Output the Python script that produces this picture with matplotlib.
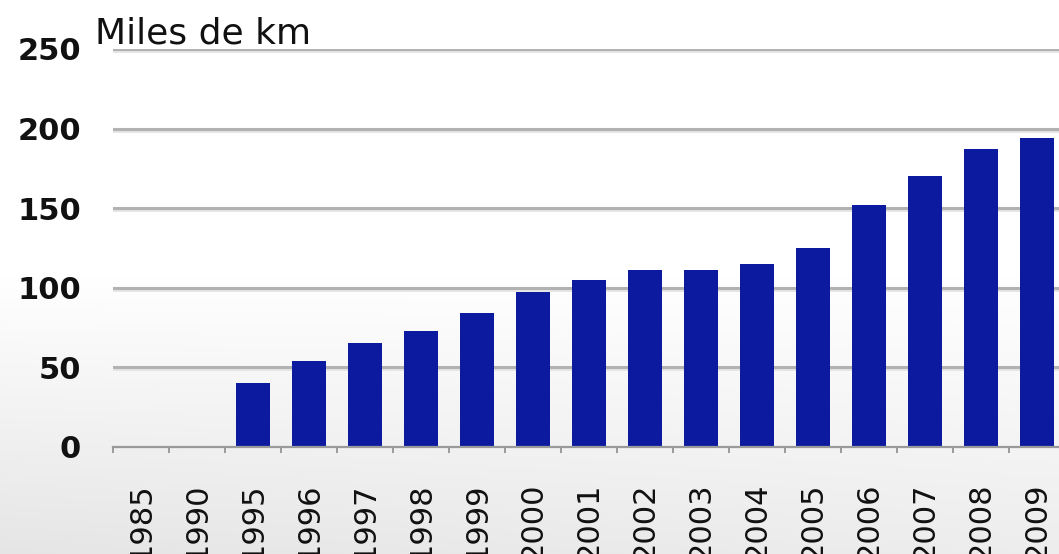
import numpy as np
import matplotlib
matplotlib.use("Agg")
import matplotlib.pyplot as plt

# Autopista network length by year (thousands of km)
years = ["1985", "1990", "1995", "1996", "1997", "1998", "1999", "2000", "2001",
         "2002", "2003", "2004", "2005", "2006", "2007", "2008", "2009"]
km_thousands = [0, 0, 40, 54, 65, 73, 84, 97, 105, 111, 111, 115, 125, 152, 170, 187, 194]
y_ticks = [0, 50, 100, 150, 200, 250]
unit_label = "Miles de km"

W, H, DPI = 1059, 554, 100
PT = 72 / DPI  # points per pixel
fig = plt.figure(figsize=(W / DPI, H / DPI), dpi=DPI)

# soft grey backdrop fading towards the bottom
bg = fig.add_axes([0, 0, 1, 1], zorder=-10)
rows = np.linspace(0, 1, H)[:, None]
cols = np.linspace(0, 1, W)[None, :]
shade = np.clip((rows - 0.50) / 0.50, 0, 1) * (0.10 - 0.03 * cols)
img = 1.0 - shade
bg.imshow(np.dstack([img, img, img]), aspect="auto", extent=[0, 1, 0, 1],
          origin="upper", vmin=0, vmax=1)
bg.set_axis_off()

# plot area in pixel units
left_px, right_px = 113, 1065
bottom_px, top_px = 554 - 446.7, 554 - 49
ax = fig.add_axes([left_px / W, bottom_px / H, (right_px - left_px) / W,
                   (top_px - bottom_px) / H])
ax.patch.set_alpha(0)

x = np.arange(len(years))
ax.set_xlim(-0.5, len(years) - 0.5)
ax.set_ylim(0, 250)

# gridlines with a faint shadow
for v in y_ticks[1:]:
    ax.axhline(v - 1.3, color="#e4e4e4", lw=2.0, zorder=0.5)
    ax.axhline(v, color="#b2b2b2", lw=2.2, zorder=0.6)

ax.bar(x, km_thousands, width=0.6, color="#0b1a9f", zorder=2)

for s in ["top", "right", "left"]:
    ax.spines[s].set_visible(False)
ax.spines["bottom"].set_color("#9a9a9a")
ax.spines["bottom"].set_linewidth(1.6)

ax.set_yticks(y_ticks)
ax.set_yticklabels([str(v) for v in y_ticks], fontsize=22, fontweight="bold",
                   color="#111111")
ax.tick_params(axis="y", length=0, pad=32 * PT)

# boundary ticks between categories, labels centred below each bar
ax.set_xticks(np.arange(-0.5, len(years) - 0.5, 1.0), minor=False)
ax.set_xticklabels([])
ax.tick_params(axis="x", which="major", length=6 * PT * 1.0, width=1.4,
               color="#9a9a9a", direction="out")
ax.set_xticks(x, minor=True)
ax.set_xticklabels(years, minor=True, rotation=90, fontsize=22,
                   color="#111111", va="top")
ax.tick_params(axis="x", which="minor", length=0, pad=36 * PT)

fig.text(95 / W, 1 - 44 / H, unit_label, fontsize=26, color="#111111",
         ha="left", va="baseline")

fig.savefig("out.png", dpi=DPI)
